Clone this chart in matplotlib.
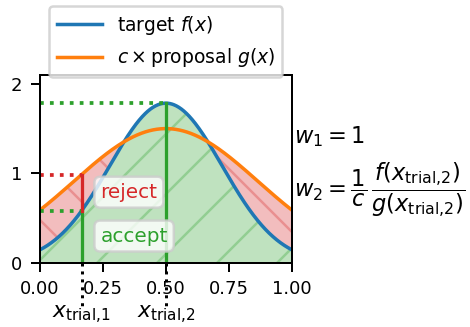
import numpy as np
import matplotlib.pyplot as plt

plt.rcParams['mathtext.fontset'] = 'dejavusans'

# target density and scaled proposal (both gaussians centred at 0.5)
mu = 0.5
var_target = 0.05
var_proposal = 0.134
peak_proposal = 1.5

x_trial = [0.165, 0.5]
xlabels = [r'$x_{\mathrm{trial{,}1}}$', r'$x_{\mathrm{trial{,}2}}$']
yticks = [0, 1, 2]
xticks = [0.0, 0.25, 0.5, 0.75, 1.0]


def f(x):
    return np.exp(-(x - mu) ** 2 / (2 * var_target)) / np.sqrt(2 * np.pi * var_target)


def cg(x):
    return peak_proposal * np.exp(-(x - mu) ** 2 / (2 * var_proposal))


x = np.linspace(0, 1, 400)

fig = plt.figure(figsize=(470 / 180, 327 / 180), dpi=180)
ax = fig.add_axes([0.085, 0.196, 0.536, 0.575])

ax.fill_between(x, 0, f(x), color='C2', alpha=0.3, hatch='/', lw=0)
ax.fill_between(x, f(x), cg(x), where=cg(x) > f(x), interpolate=True,
                color='C3', alpha=0.3, hatch='\\', lw=0)
ax.plot(x, f(x), color='C0', lw=1.4, label=r'target $f(x)$')
ax.plot(x, cg(x), color='C1', lw=1.4, label=r'$c\times$proposal $g(x)$')

# trial 1: rejected part above f
x1 = x_trial[0]
ax.plot([0, x1], [cg(x1), cg(x1)], ':', color='C3', lw=1.5)
ax.plot([0, x1], [f(x1), f(x1)], ':', color='C2', lw=1.5)
ax.plot([x1, x1], [0, f(x1)], '-', color='C2', lw=1.3)
ax.plot([x1, x1], [f(x1), cg(x1)], '-', color='C3', lw=1.3)

# trial 2: f above c*g, always accepted
x2 = x_trial[1]
ax.plot([0, x2], [f(x2), f(x2)], ':', color='C2', lw=1.5)
ax.plot([x2, x2], [0, f(x2)], '-', color='C2', lw=1.3)

box = dict(boxstyle='round', facecolor='white', edgecolor='0.8', alpha=0.8)
ax.text(0.24, 0.79, 'reject', color='C3', fontsize=8, va='center', bbox=box)
ax.text(0.24, 0.30, 'accept', color='C2', fontsize=8, va='center', bbox=box)

# dotted guides down to the trial labels
for xt, lab in zip(x_trial, xlabels):
    ax.plot([xt, xt], [0, -0.23], ':', color='k', lw=1.2,
            transform=ax.get_xaxis_transform(), clip_on=False)
    ax.text(xt, -0.278, lab, fontsize=8.7, ha='center', va='center',
            transform=ax.get_xaxis_transform())

ax.text(1.008, 0.67, r'$w_1 = 1$', fontsize=9, va='center', transform=ax.transAxes)
ax.text(1.008, 0.39, r'$w_2 = \dfrac{1}{c}\,\dfrac{f(x_{\mathrm{trial{,}2}})}{g(x_{\mathrm{trial{,}2}})}$',
        fontsize=9, va='center', transform=ax.transAxes)

ax.set_xlim(0, 1)
ax.set_ylim(0, 2.1)
ax.set_xticks(xticks)
ax.set_yticks(yticks)
ax.tick_params(labelsize=7.2, length=3.5, width=0.8)
ax.legend(loc='lower center', bbox_to_anchor=(0.5, 0.99), borderaxespad=0,
          fontsize=7.5, handlelength=2.4)

fig.savefig('out.png', dpi=180)
